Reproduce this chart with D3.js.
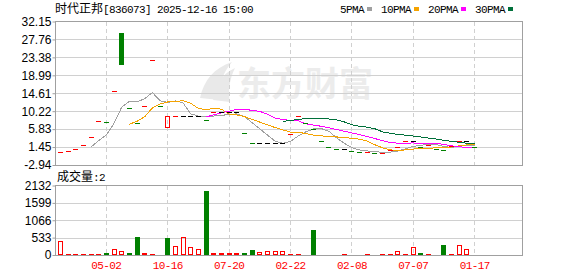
<!DOCTYPE html>
<html>
<head>
<meta charset="utf-8">
<script src="https://cdn.jsdelivr.net/npm/d3@7"></script>
<style>
  body { margin: 0; background: #fff; }
  svg { display: block; }
</style>
</head>
<body>
<svg id="chart" width="578" height="276"></svg>
<script>
// ---- data ----
const title = '时代正邦';
const titleInfo = '[836073] 2025-12-16 15:00';
const volTitle = '成交量';
const volLast = ':2';

const prevClose0 = 0.12;
const closes = [0.17, 0.41, 0.97, 1.88, 3.98, 7.75, 7.50, 15.15, 21.68, 10.92,
  7.26, 11.41, 22.66, 11.49, 9.00, 9.05, 9.05, 9.05, 9.05, 8.06,
  9.95, 9.95, 9.95, 9.95, 4.81, 2.37, 2.37, 2.37, 2.37, 2.37,
  4.64, 9.04, 7.45, 5.86, 2.86, 1.39, 0.90, 0.90, 0.41, 0.15,
  0.20, -0.08, 0.10, 0.73, 1.39, 2.93, 2.93, 1.39, 1.95, 0.97,
  0.73, 1.70, 2.93, 2.93, 1.39];
const opens = [0.17, 0.41, 0.97, 1.88, 3.98, 7.75, 7.50, 15.15, 29.41, 10.92,
  7.26, 11.41, 22.66, 11.49, 6.43, 9.05, 9.05, 9.05, 9.05, 8.06,
  9.95, 9.95, 9.95, 9.95, 4.81, 2.37, 2.37, 2.37, 2.37, 2.37,
  4.64, 9.04, 7.45, 5.86, 2.86, 1.39, 0.90, 0.90, 0.41, 0.15,
  0.20, -0.08, 0.10, 0.73, 1.39, 2.93, 2.93, 1.39, 1.95, 0.97,
  0.73, 1.70, 2.93, 2.93, 1.39];
const volumes = [433, 5, 4, 6, 5, 8, 93, 185, 124, 93,
  587, 62, 31, 31, 556, 278, 556, 247, 185, 1987,
  62, 62, 62, 62, 93, 185, 93, 124, 124, 124,
  5, 6, 4, 808, 5, 4, 6, 3, 5, 4,
  6, 3, 5, 4, 124, 6, 242, 93, 5, 4,
  345, 6, 300, 180, 2];

const priceTicks = ['32.15', '27.76', '23.38', '18.99', '14.61', '10.22', '5.83', '1.45', '-2.94'];
const volTicks = ['2132', '1599', '1066', '533', '0'];
const dateTickIdx = [6, 14, 22, 30, 38, 46, 54];
const dateTickLabels = ['05-02', '10-16', '07-20', '02-22', '02-08', '07-07', '01-17'];

const maPeriods = [5, 10, 20, 30];
const maNames = ['5PMA', '10PMA', '20PMA', '30PMA'];
const maColors = ['#a0a0a0', '#f5a300', '#ff00ff', '#00703a'];

// ---- layout ----
const RED = '#ff0000', GREEN = '#008000';
const left = 55.5, right = 522.5;
const pTop = 21.5, pBottom = 165.5;
const vTop = 185.5, vBottom = 255.5;
const monoFont = '"Liberation Mono", "DejaVu Sans Mono", monospace';
const cjkFont = '"Noto Sans CJK SC", sans-serif';
const numFont = '"Liberation Sans", Arial, sans-serif';

const svg = d3.select('#chart');
const px = v => Math.round(v) + 0.5;

const x = d3.scaleBand().domain(d3.range(61)).range([56.5, 524.5]);
const cx = i => x(i) + x.bandwidth() / 2;

const yP = d3.scaleLinear().domain([-2.94, 32.15]).range([pBottom - 0.5, pTop]);
const yV = d3.scaleLinear().domain([0, 2132]).range([vBottom - 0.5, vTop]);

const prevOf = i => (i === 0 ? prevClose0 : closes[i - 1]);
const candleDir = i => {
  if (closes[i] > opens[i]) return 'up';
  if (closes[i] < opens[i]) return 'down';
  const p = prevOf(i);
  return closes[i] > p ? 'up' : (closes[i] < p ? 'down' : 'flat');
};
const dirColor = d => (d === 'up' ? RED : d === 'down' ? GREEN : '#000');

// ---- watermark ----
const wm = svg.append('g').attr('fill', '#ececec');
wm.append('path')
  .attr('d', 'M200,98 C204,80 214,68 232,62 C222,74 218,86 220,100 Z M213,100 C214,86 222,74 235,68 C229,80 228,92 230,102 Z')
  .attr('fill', '#e9e9e9');
wm.append('text')
  .attr('x', 237).attr('y', 96)
  .attr('font-family', cjkFont).attr('font-weight', 'bold')
  .attr('font-size', 34)
  .text('东方财富');

// ---- grids ----
const grid = svg.append('g').attr('stroke', '#d0d0d0').attr('stroke-width', 1).attr('shape-rendering', 'crispEdges');
priceTicks.slice(1, -1).forEach(t => {
  grid.append('line').attr('x1', left).attr('x2', right).attr('y1', px(yP(+t))).attr('y2', px(yP(+t)));
});
volTicks.slice(1, -1).forEach(t => {
  grid.append('line').attr('x1', left).attr('x2', right).attr('y1', px(yV(+t))).attr('y2', px(yV(+t)));
});
dateTickIdx.forEach(i => {
  [[pTop, pBottom], [vTop, vBottom]].forEach(([a, b]) => {
    grid.append('line')
      .attr('x1', px(cx(i) - 0.5)).attr('x2', px(cx(i) - 0.5))
      .attr('y1', a).attr('y2', b)
      .attr('stroke-dasharray', '4,3');
  });
});

// ---- MA lines ----
const maSeries = maPeriods.map(n => closes.map((c, i) =>
  i < n - 1 ? null : d3.mean(closes.slice(i - n + 1, i + 1))));

const line = d3.line()
  .defined(d => d.v !== null)
  .x(d => cx(d.i))
  .y(d => yP(d.v));

maSeries.forEach((s, k) => {
  svg.append('path')
    .datum(s.map((v, i) => ({ i, v })))
    .attr('d', line)
    .attr('fill', 'none')
    .attr('stroke', maColors[k])
    .attr('stroke-width', 1)
    .attr('shape-rendering', 'crispEdges');
});

// ---- candles ----
const candles = svg.append('g').attr('shape-rendering', 'crispEdges');
closes.forEach((c, i) => {
  const o = opens[i];
  const dir = candleDir(i);
  const col = dirColor(dir);
  const xc = cx(i);
  if (o === c) {
    candles.append('line')
      .attr('x1', Math.round(xc - 2.5)).attr('x2', Math.round(xc + 2.5))
      .attr('y1', px(yP(c))).attr('y2', px(yP(c)))
      .attr('stroke', col).attr('stroke-width', 1);
  } else if (c > o) {
    candles.append('rect')
      .attr('x', px(xc - 2.5)).attr('y', px(yP(c)))
      .attr('width', 4).attr('height', Math.round(yP(o) - yP(c)))
      .attr('fill', 'none').attr('stroke', col).attr('stroke-width', 1);
  } else {
    candles.append('rect')
      .attr('x', Math.round(xc - 2.5)).attr('y', Math.round(yP(o)))
      .attr('width', 5).attr('height', Math.round(yP(c) - yP(o)))
      .attr('fill', col);
  }
});

// ---- volume bars ----
const bars = svg.append('g').attr('shape-rendering', 'crispEdges');
volumes.forEach((v, i) => {
  const up = closes[i] >= prevOf(i);
  const xc = cx(i);
  const h = Math.max(1, Math.round(yV(0) - yV(v)));
  if (up) {
    bars.append('rect')
      .attr('x', px(xc - 2.5)).attr('y', px(yV(0) - h))
      .attr('width', 4).attr('height', Math.max(h - 1, 0.5))
      .attr('fill', 'none').attr('stroke', RED).attr('stroke-width', 1);
  } else {
    bars.append('rect')
      .attr('x', Math.round(xc - 2.5)).attr('y', Math.round(yV(0)) - h + 1)
      .attr('width', 5).attr('height', h)
      .attr('fill', GREEN);
  }
});

// ---- borders ----
const frame = svg.append('g').attr('fill', 'none').attr('stroke', '#a0a0a0').attr('shape-rendering', 'crispEdges');
frame.append('rect').attr('x', left).attr('y', pTop).attr('width', right - left).attr('height', pBottom - pTop);
frame.append('rect').attr('x', left).attr('y', vTop).attr('width', right - left).attr('height', vBottom - vTop);

// ---- axes ----
const styleAxis = g => {
  g.select('.domain').remove();
  g.selectAll('.tick line').attr('stroke', '#a0a0a0');
  g.selectAll('.tick text').attr('font-family', numFont).attr('font-size', 12).attr('fill', '#000');
};

svg.append('g')
  .attr('transform', `translate(${left},0)`)
  .call(d3.axisLeft(yP).tickValues(priceTicks.map(Number)).tickFormat((d, i) => priceTicks[i]).tickSize(3).tickPadding(1))
  .call(styleAxis);

svg.append('g')
  .attr('transform', `translate(${left},0)`)
  .call(d3.axisLeft(yV).tickValues(volTicks.map(Number)).tickFormat((d, i) => volTicks[i]).tickSize(3).tickPadding(1))
  .call(styleAxis);

const xAxis = svg.append('g')
  .attr('transform', `translate(0,${vBottom})`)
  .call(d3.axisBottom(x).tickValues(dateTickIdx).tickFormat((d, i) => dateTickLabels[i]).tickSize(0).tickPadding(6));
xAxis.select('.domain').remove();
xAxis.selectAll('.tick text')
  .attr('font-family', monoFont).attr('font-size', 11).attr('letter-spacing', '-0.6px')
  .attr('fill', RED);

// ---- titles & legend ----
const t = svg.append('text').attr('x', 55).attr('y', 13).attr('fill', '#000');
t.append('tspan').attr('font-family', cjkFont).attr('font-size', 12).text(title);
t.append('tspan').attr('font-family', monoFont).attr('font-size', 11).attr('letter-spacing', '-0.6px').text(titleInfo);

const vt = svg.append('text').attr('x', 57).attr('y', 181).attr('fill', '#000');
vt.append('tspan').attr('font-family', cjkFont).attr('font-size', 12).text(volTitle);
vt.append('tspan').attr('font-family', monoFont).attr('font-size', 11).attr('letter-spacing', '-0.6px').text(volLast);

let lx = 340;
maNames.forEach((name, k) => {
  const txt = svg.append('text')
    .attr('x', lx).attr('y', 13)
    .attr('font-family', monoFont).attr('font-size', 11).attr('letter-spacing', '-0.6px')
    .attr('fill', '#000')
    .text(name);
  const w = txt.node().getComputedTextLength();
  svg.append('rect')
    .attr('x', Math.round(lx + w + 3)).attr('y', 7)
    .attr('width', 5).attr('height', 4)
    .attr('fill', maColors[k]);
  lx = Math.round(lx + w + 3) + 5 + 9;
});
</script>
</body>
</html>
